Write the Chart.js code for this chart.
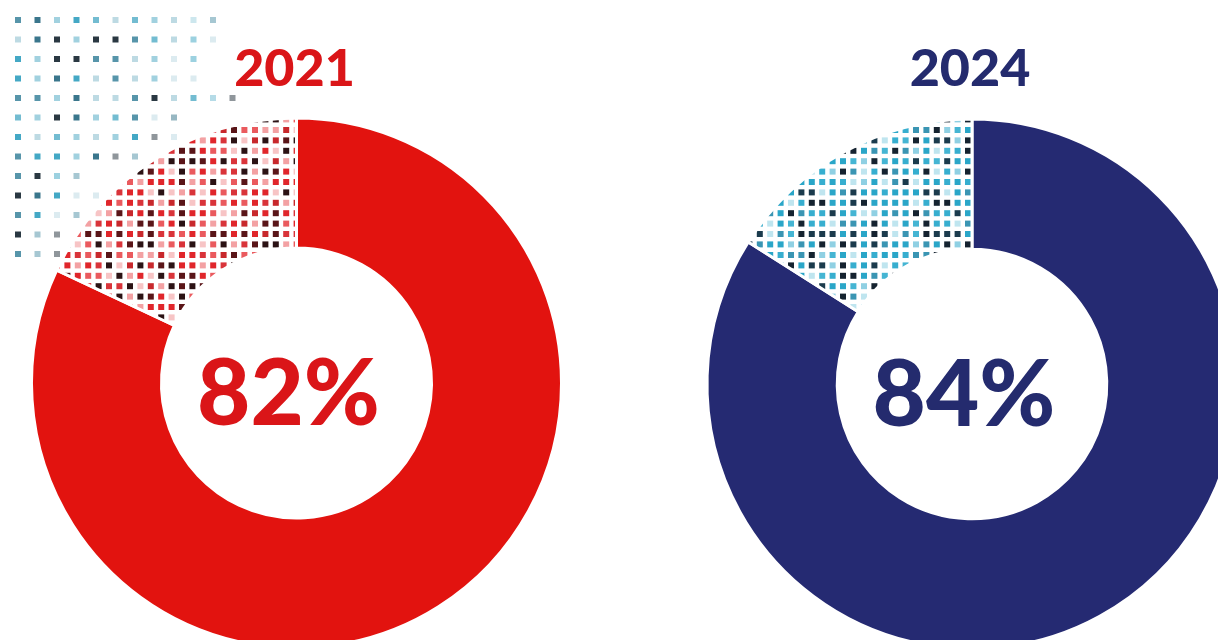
<!DOCTYPE html>
<html>
<head>
<meta charset="utf-8">
<script src="https://cdn.jsdelivr.net/npm/chart.js@4"></script>
<style>
  html, body { margin: 0; padding: 0; background: #fff; overflow: hidden; }
  #wrap { position: relative; width: 1218px; height: 640px; overflow: hidden; }
  canvas { position: absolute; top: 0; }
  #c2021 { left: 0; }
  #c2024 { left: 609px; }
</style>
</head>
<body>
<div id="wrap">
  <canvas id="c2021" width="609" height="700"></canvas>
  <canvas id="c2024" width="660" height="700"></canvas>
</div>
<script>
// Part des répondants (%) par année
const years = ["2021", "2024"];
const shares = [82, 84];
const mainColors = ["#e2130f", "#252a72"];
const titleColors = ["#da1518", "#242b6e"];
const dotColors = [
  ["#e0262b", "#e0262b", "#d9343a", "#ea5a5e", "#f3a1a3", "#f7c4c5", "#5a1518", "#2b1214", "#c8282c"],
  ["#2aa6c8", "#2aa6c8", "#37aecf", "#45b5d3", "#8fd0e3", "#bfe5ef", "#1b3b4d", "#152330", "#3a95b3"]
];

// petit générateur déterministe pour varier la couleur des points
function lcg(seed) {
  let s = seed;
  return () => {
    s = (s * 9301 + 49297) % 233280;
    return s / 233280;
  };
}

// motif de points pour la part restante
function dotPattern(ctx, colors, seed) {
  const step = 10.4, n = 12;
  const size = Math.round(step * n);
  const tile = document.createElement("canvas");
  tile.width = size;
  tile.height = size;
  const c = tile.getContext("2d");
  c.fillStyle = "#fff";
  c.fillRect(0, 0, size, size);
  const rnd = lcg(seed);
  for (let i = 0; i < n; i++) {
    for (let j = 0; j < n; j++) {
      c.fillStyle = colors[Math.floor(rnd() * colors.length)];
      c.fillRect(i * step + 2, j * step + 2, 6, 6);
    }
  }
  return ctx.createPattern(tile, "repeat");
}

// grille de points décorative en haut à gauche
const gridRows = [11, 11, 10, 10, 12, 9, 9, 7, 4, 5, 4, 3, 3];
const gridColors = ["#3aa3c2", "#6bb8cf", "#9ccfdd", "#1f2d38", "#4e8fa5", "#b9d8e2", "#2f6f86"];
const gridPlugin = {
  id: "gridDots",
  beforeDatasetsDraw(chart) {
    const ctx = chart.ctx;
    const rnd = lcg(11);
    ctx.save();
    gridRows.forEach((count, r) => {
      for (let k = 0; k < count; k++) {
        ctx.globalAlpha = k >= count - 2 ? 0.5 : 0.95;
        ctx.fillStyle = gridColors[Math.floor(rnd() * gridColors.length)];
        ctx.fillRect(15 + k * 19.5, 17 + r * 19.5, 6, 6);
      }
    });
    ctx.restore();
  }
};

// titre (année) et pourcentage au centre
const labelPlugin = {
  id: "labels",
  afterDraw(chart) {
    const o = chart.options.plugins.labels;
    const arc = chart.getDatasetMeta(0).data[0];
    const ctx = chart.ctx;
    ctx.save();
    ctx.textAlign = "center";
    ctx.textBaseline = "alphabetic";
    ctx.fillStyle = o.color;
    ctx.font = "900 52px Lato";
    ctx.fillText(o.year, arc.x - 2, 86);
    ctx.font = "900 92px Lato";
    ctx.fillText(o.value + "%", arc.x - 8, arc.y + 42);
    ctx.restore();
  }
};

function drawDonut(id, i, pad) {
  const canvas = document.getElementById(id);
  const ctx = canvas.getContext("2d");
  new Chart(canvas, {
    type: "doughnut",
    data: {
      labels: ["Oui", "Autre"],
      datasets: [{
        data: [shares[i], 100 - shares[i]],
        backgroundColor: [mainColors[i], dotPattern(ctx, dotColors[i], 5 + i * 17)],
        borderColor: "#fff",
        borderWidth: 3,
        hoverOffset: 0
      }]
    },
    options: {
      responsive: false,
      animation: false,
      radius: 265,
      cutout: 134,
      layout: { padding: pad },
      events: [],
      plugins: {
        legend: { display: false },
        tooltip: { enabled: false },
        labels: { year: years[i], value: shares[i], color: titleColors[i] }
      }
    },
    plugins: i === 0 ? [gridPlugin, labelPlugin] : [labelPlugin]
  });
}

// centres : (297, 383) et (972, 384)
drawDonut("c2021", 0, { left: 32, right: 48, top: 118, bottom: 52 });
drawDonut("c2024", 1, { left: 98, right: 32, top: 119, bottom: 51 });
</script>
</body>
</html>
